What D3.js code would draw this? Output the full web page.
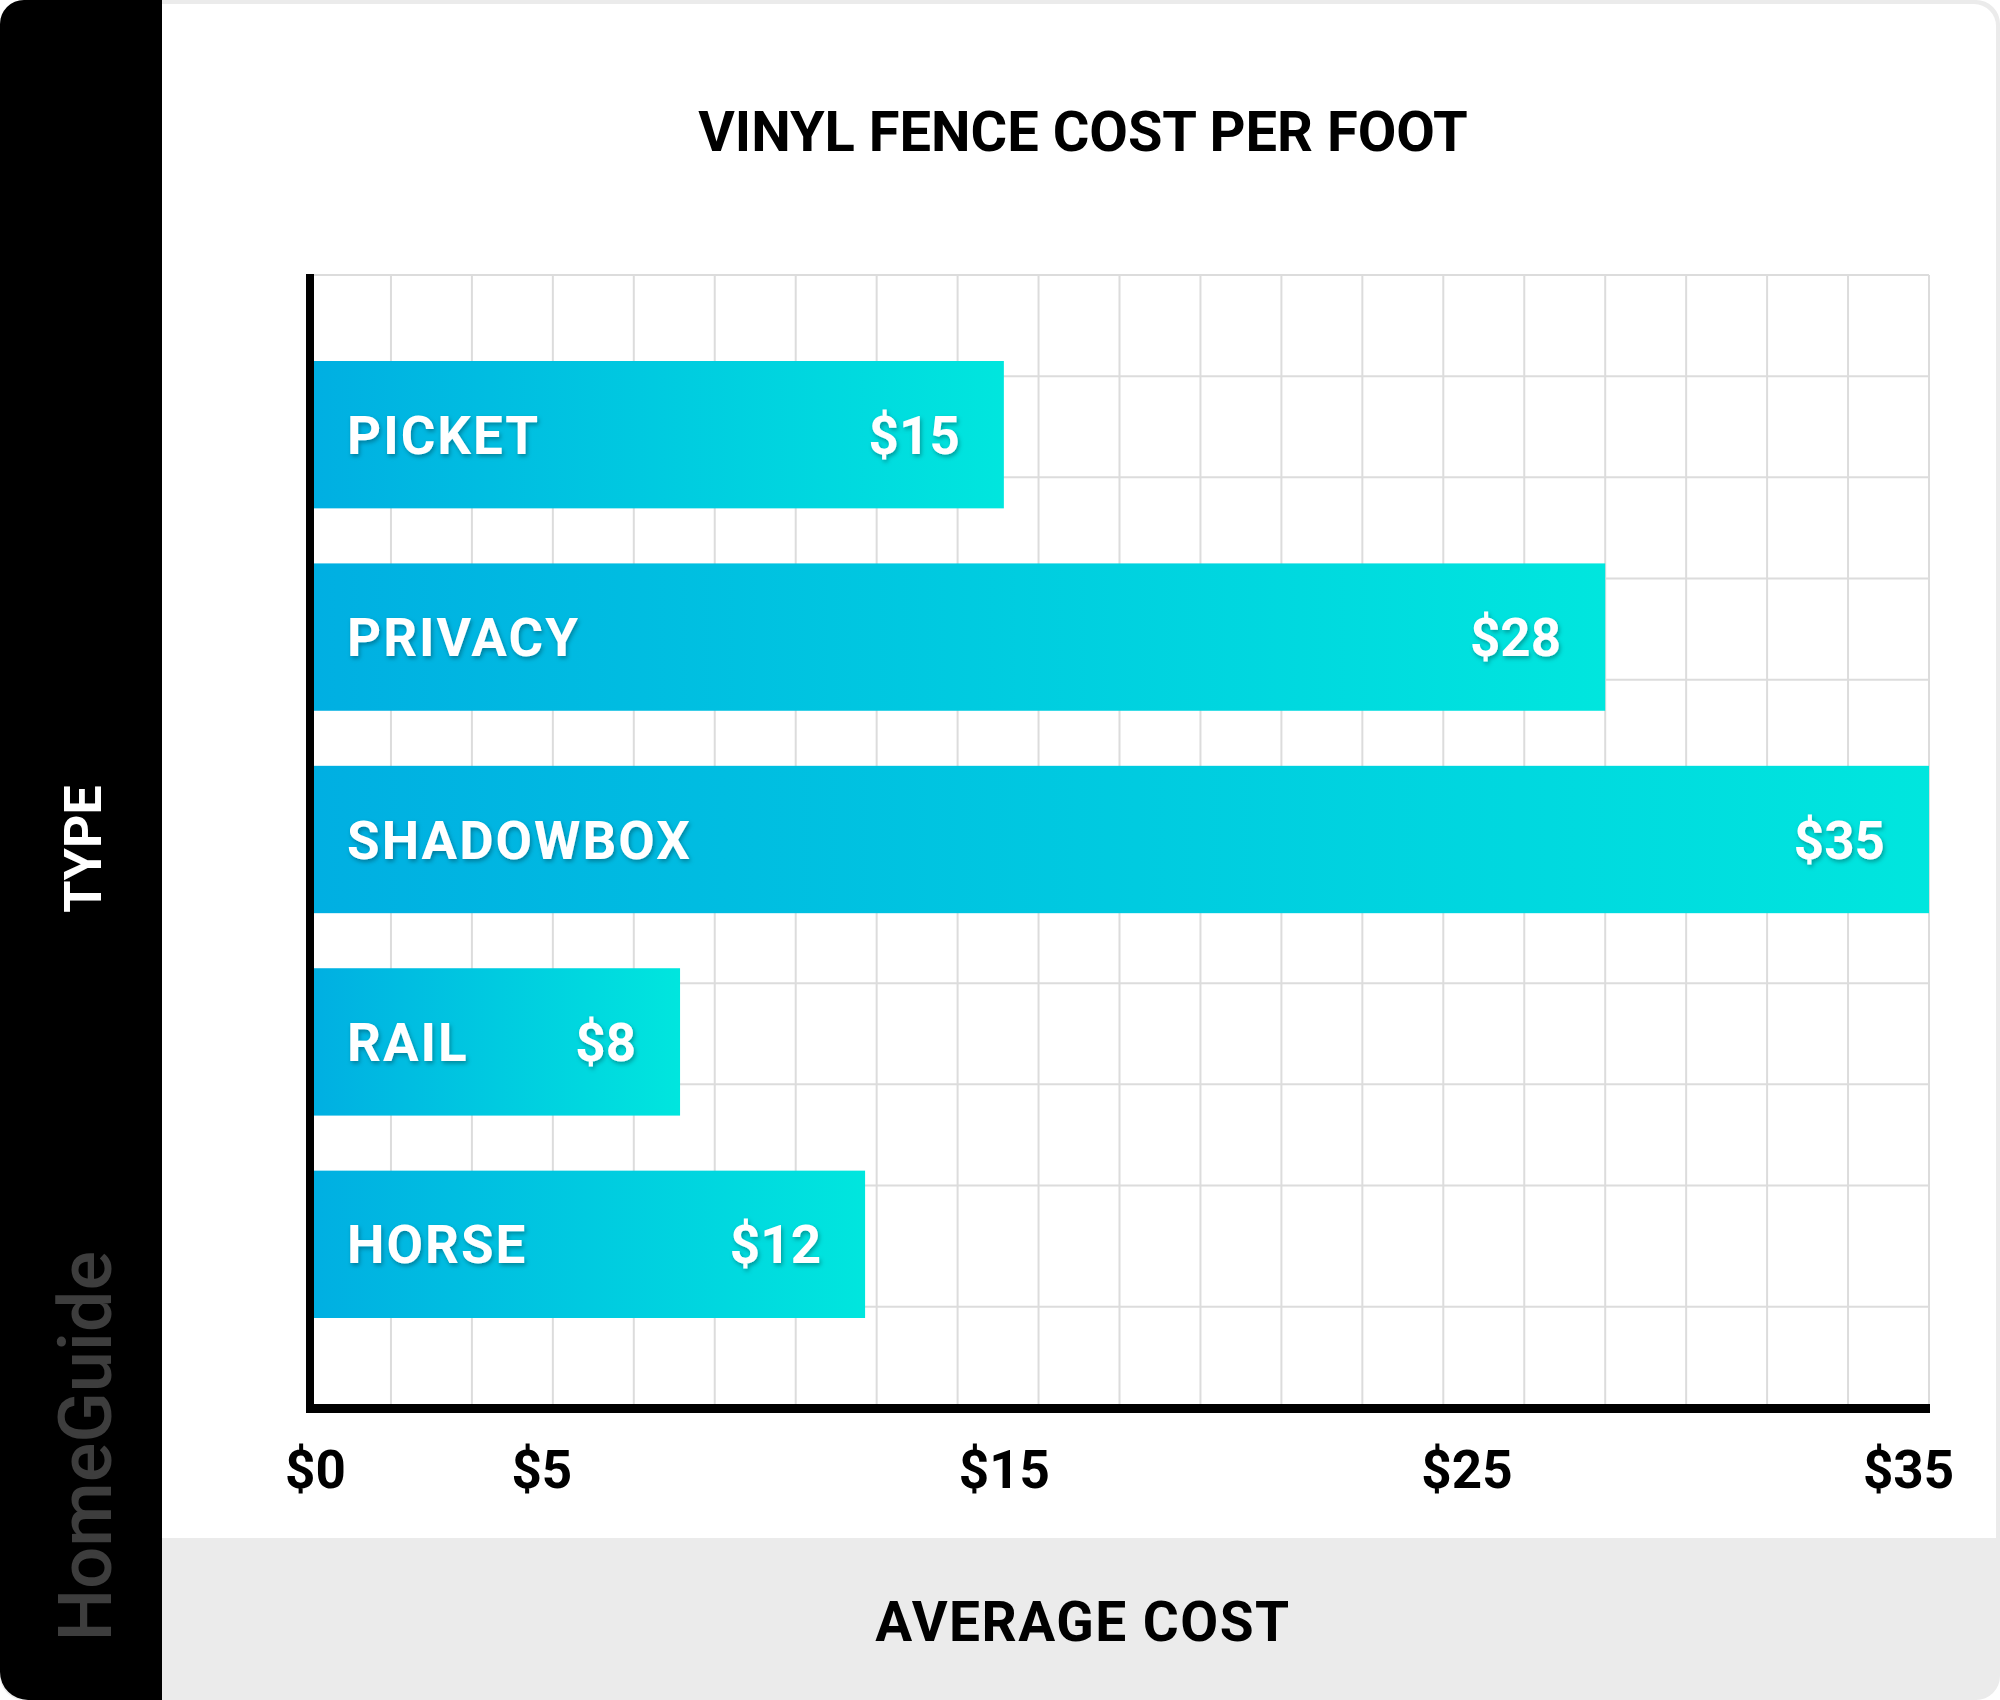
<!DOCTYPE html>
<html>
<head>
<meta charset="utf-8">
<script src="https://cdn.jsdelivr.net/npm/d3@7"></script>
<style>
  body { margin: 0; background: #fff; }
  text { font-family: Roboto, "Noto Sans", sans-serif; }
</style>
</head>
<body>
<svg id="chart"></svg>
<script>
// values
const types = ["PICKET", "PRIVACY", "SHADOWBOX", "RAIL", "HORSE"]
const costs = [15, 28, 35, 8, 12]
const tickValues = [0, 5, 15, 25, 35]
const title = "VINYL FENCE COST PER FOOT"

const width = 2000, height = 1700
const svg = d3.select("#chart").attr("width", width).attr("height", height)

// frame: grey ring + bottom band, white card, black side panel
svg.append("rect").attr("x", 0).attr("y", 0).attr("width", width).attr("height", height)
    .attr("rx", 24).attr("fill", "#ebebeb")
svg.append("path")
    .attr("d", "M162,4 H1974 A22,22 0 0 1 1996,26 V1538 H162 Z")
    .attr("fill", "#fff")
svg.append("path")
    .attr("d", "M24,0 H162 V1700 H28 A28,28 0 0 1 0,1672 V24 A24,24 0 0 1 24,0 Z")
    .attr("fill", "#000")

const defs = svg.append("defs")
const grad = defs.append("linearGradient").attr("id", "barGrad")
    .attr("x1", "0%").attr("x2", "100%").attr("y1", "0%").attr("y2", "0%")
grad.append("stop").attr("offset", "0%").attr("stop-color", "#00afe2")
grad.append("stop").attr("offset", "100%").attr("stop-color", "#00e6de")
defs.append("filter").attr("id", "shadow")
    .attr("x", "-10%").attr("y", "-30%").attr("width", "130%").attr("height", "160%")
    .append("feDropShadow").attr("dx", 1.5).attr("dy", 2.5).attr("stdDeviation", 2)
    .attr("flood-color", "#000").attr("flood-opacity", 0.3)

// scales
const x = d3.scaleLinear().domain([0, 35]).range([310, 1929])
const y = d3.scaleBand().domain(types).range([361, 1318]).paddingInner(0.272)
const gridY = d3.scaleLinear().domain([0, 11.2]).range([275, 1408])

// grid
const grid = svg.append("g").attr("stroke", "#dcdcdc").attr("stroke-width", 2)
grid.selectAll(".gx").data(d3.range(1, 21).map(i => i * 1.75))
    .join("line")
    .attr("x1", d => x(d)).attr("x2", d => x(d))
    .attr("y1", gridY(0)).attr("y2", gridY(11.2))
grid.selectAll(".gy").data(d3.range(0, 10).concat([10.2]))
    .join("line")
    .attr("x1", x(0)).attr("x2", x(35))
    .attr("y1", d => gridY(d)).attr("y2", d => gridY(d))

// bars
const rows = types.map((t, i) => ({type: t, cost: costs[i]}))
const bar = svg.selectAll(".bar").data(rows).join("g").attr("class", "bar")
bar.append("rect")
    .attr("x", x(0) + 4)
    .attr("y", d => y(d.type))
    .attr("width", d => x(d.cost) - x(0) - 4)
    .attr("height", y.bandwidth())
    .attr("fill", "url(#barGrad)")
bar.append("text")
    .attr("x", x(0) + 37)
    .attr("y", d => y(d.type) + y.bandwidth() / 2 + 19)
    .attr("fill", "#fff")
    .attr("font-size", 53).attr("font-weight", 700)
    .attr("letter-spacing", 2)
    .attr("filter", "url(#shadow)")
    .text(d => d.type)
bar.append("text")
    .attr("x", d => x(d.cost) - 44)
    .attr("y", d => y(d.type) + y.bandwidth() / 2 + 19)
    .attr("text-anchor", "end")
    .attr("fill", "#fff")
    .attr("font-size", 53).attr("font-weight", 700)
    .attr("filter", "url(#shadow)")
    .text(d => "$" + d.cost)

// axes lines
svg.append("line").attr("x1", x(0)).attr("x2", x(0)).attr("y1", 274).attr("y2", 1413)
    .attr("stroke", "#000").attr("stroke-width", 8)
svg.append("line").attr("x1", x(0) - 4).attr("x2", x(35) + 1).attr("y1", 1408.5).attr("y2", 1408.5)
    .attr("stroke", "#000").attr("stroke-width", 9)

// tick labels
const xAxis = svg.append("g").attr("transform", "translate(0,1413)")
    .call(d3.axisBottom(x).tickValues(tickValues).tickSize(0).tickPadding(0).tickFormat(d => "$" + d))
xAxis.select(".domain").remove()
xAxis.selectAll("text")
    .attr("y", 75).attr("dy", 0)
    .attr("font-size", 53).attr("font-weight", 700).attr("fill", "#000")
    .style("font-family", "Roboto, sans-serif")
xAxis.selectAll(".tick").filter(d => d === 0).select("text").attr("dx", 5)
xAxis.selectAll(".tick").filter(d => d === 35).select("text").attr("dx", -21)

// titles
svg.append("text").attr("x", 1083).attr("y", 151)
    .attr("text-anchor", "middle").attr("font-size", 56).attr("font-weight", 700)
    .attr("fill", "#000").text(title)
svg.append("text").attr("x", 1083).attr("y", 1641)
    .attr("text-anchor", "middle").attr("font-size", 55).attr("font-weight", 700)
    .attr("letter-spacing", 1.5).attr("fill", "#000").text("AVERAGE COST")
svg.append("text").attr("transform", "translate(101,849) rotate(-90)")
    .attr("text-anchor", "middle").attr("font-size", 52).attr("font-weight", 700)
    .attr("fill", "#fff").text("TYPE")
svg.append("text").attr("transform", "translate(111,1446) rotate(-90)")
    .attr("text-anchor", "middle").attr("font-size", 74).attr("font-weight", 500)
    .attr("fill", "#3d3d3d").text("HomeGuide")
</script>
</body>
</html>
